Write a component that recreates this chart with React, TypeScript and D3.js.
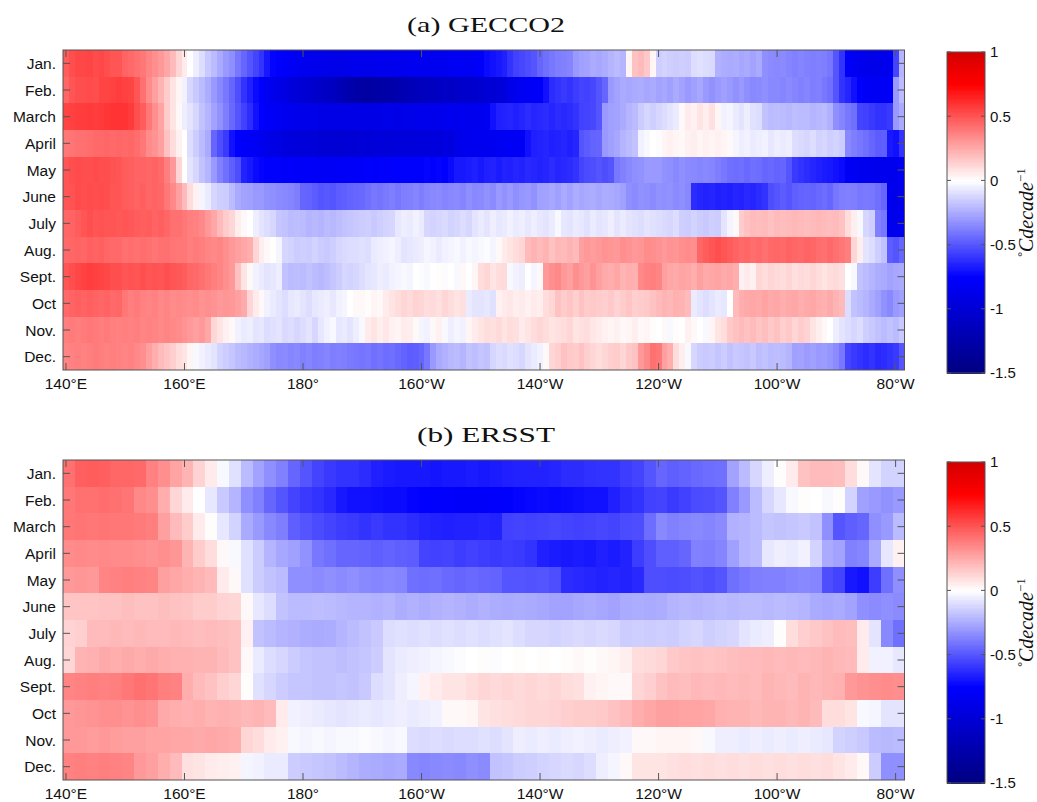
import React from 'react';
import * as d3 from 'd3';

// Month rows (top to bottom) and longitude axis annotations
const MONTHS = ['Jan.', 'Feb.', 'March', 'April', 'May', 'June', 'July', 'Aug.', 'Sept.', 'Oct', 'Nov.', 'Dec.'];
const LON_TICKS = [140, 160, 180, 200, 220, 240, 260, 280];
const LON_TICK_LABELS = ['140°E', '160°E', '180°', '160°W', '140°W', '120°W', '100°W', '80°W'];
const CBAR_TICKS = [1, 0.5, 0, -0.5, -1, -1.5];
const CBAR_TICK_LABELS = ['1', '0.5', '0', '-0.5', '-1', '-1.5'];

// Longitude extent (degrees east) and grid spacing of each product
const LON_WEST = 139.5;
const LON_EAST = 281.5;
const GECCO2_STEP = 1;
const ERSST_STEP = 2;

// GECCO2 SST trend (°C/decade), 1° columns from 139.5°E eastward
const GECCO2_JAN = [
  0.48, 0.52, 0.54, 0.54, 0.55, 0.53, 0.54, 0.52, 0.5, 0.5,
  0.46, 0.44, 0.42, 0.4, 0.36, 0.33, 0.3, 0.26, 0.2, 0.12,
  0.06, 0, -0.05, -0.1, -0.16, -0.2, -0.25, -0.3, -0.33, -0.4,
  -0.45, -0.5, -0.55, -0.6, -0.68, -0.74, -0.76, -0.78, -0.8, -0.82,
  -0.84, -0.85, -0.86, -0.86, -0.87, -0.88, -0.88, -0.88, -0.87, -0.86,
  -0.86, -0.87, -0.86, -0.85, -0.86, -0.85, -0.84, -0.85, -0.84, -0.84,
  -0.85, -0.84, -0.83, -0.84, -0.83, -0.82, -0.82, -0.81, -0.82, -0.8,
  -0.78, -0.72, -0.7, -0.68, -0.66, -0.6, -0.56, -0.54, -0.52, -0.5,
  -0.45, -0.42, -0.4, -0.38, -0.37, -0.36, -0.3, -0.28, -0.27, -0.25,
  -0.26, -0.24, -0.22, -0.2, -0.22, 0.03, 0.18, 0.2, 0.16, 0.03,
  -0.14, -0.13, -0.14, -0.15, -0.14, -0.15, -0.1, -0.09, -0.1, -0.11,
  -0.23, -0.24, -0.25, -0.24, -0.26, -0.25, -0.27, -0.25, -0.33, -0.34,
  -0.35, -0.34, -0.36, -0.37, -0.36, -0.37, -0.38, -0.37, -0.38, -0.4,
  -0.5, -0.6, -0.78, -0.82, -0.85, -0.86, -0.88, -0.87, -0.86, -0.84,
  -0.55, -0.22,
];
const GECCO2_FEB = [
  0.45, 0.5, 0.52, 0.52, 0.53, 0.52, 0.55, 0.55, 0.56, 0.57,
  0.56, 0.55, 0.5, 0.42, 0.34, 0.28, 0.22, 0.15, 0.08, 0.03,
  -0.04, -0.12, -0.16, -0.2, -0.24, -0.3, -0.35, -0.4, -0.45, -0.52,
  -0.6, -0.66, -0.72, -0.76, -0.82, -0.86, -0.9, -0.92, -0.95, -0.98,
  -1.0, -1.02, -1.05, -1.08, -1.1, -1.12, -1.15, -1.2, -1.24, -1.27,
  -1.28, -1.3, -1.28, -1.27, -1.26, -1.25, -1.22, -1.2, -1.18, -1.15,
  -1.14, -1.12, -1.13, -1.1, -1.08, -1.1, -1.07, -1.05, -1.06, -1.04,
  -1.02, -1.0, -1.0, -0.98, -0.95, -0.88, -0.85, -0.82, -0.8, -0.8,
  -0.78, -0.7, -0.62, -0.6, -0.58, -0.6, -0.57, -0.55, -0.56, -0.54,
  -0.5, -0.45, -0.3, -0.27, -0.25, -0.26, -0.25, -0.24, -0.26, -0.25,
  -0.27, -0.26, -0.28, -0.25, -0.27, -0.3, -0.28, -0.26, -0.3, -0.32,
  -0.3, -0.28, -0.3, -0.32, -0.3, -0.33, -0.35, -0.34, -0.33, -0.35,
  -0.35, -0.36, -0.34, -0.36, -0.37, -0.36, -0.38, -0.37, -0.4, -0.42,
  -0.5, -0.6, -0.64, -0.7, -0.76, -0.8, -0.8, -0.82, -0.8, -0.78,
  -0.3, -0.2,
];
const GECCO2_MAR = [
  0.55, 0.56, 0.57, 0.57, 0.58, 0.57, 0.58, 0.59, 0.6, 0.6,
  0.6, 0.58, 0.52, 0.48, 0.4, 0.33, 0.27, 0.15, 0.08, 0.02,
  -0.05, -0.08, -0.12, -0.18, -0.22, -0.27, -0.32, -0.38, -0.44, -0.5,
  -0.56, -0.62, -0.7, -0.75, -0.78, -0.8, -0.82, -0.84, -0.85, -0.86,
  -0.87, -0.88, -0.88, -0.89, -0.9, -0.9, -0.9, -0.89, -0.9, -0.9,
  -0.9, -0.9, -0.89, -0.9, -0.88, -0.88, -0.89, -0.87, -0.88, -0.87,
  -0.86, -0.87, -0.86, -0.86, -0.85, -0.84, -0.86, -0.84, -0.85, -0.84,
  -0.84, -0.82, -0.7, -0.66, -0.65, -0.64, -0.66, -0.64, -0.62, -0.64,
  -0.63, -0.62, -0.64, -0.62, -0.63, -0.62, -0.6, -0.56, -0.55, -0.54,
  -0.5, -0.3, -0.28, -0.27, -0.25, -0.22, -0.2, -0.15, -0.12, -0.14,
  -0.12, -0.1, -0.08, -0.06, 0.02, 0.06, 0.04, 0.08, 0.05, 0.09,
  0.03, -0.04, -0.03, -0.06, -0.08, -0.05, -0.09, -0.1, -0.18, -0.2,
  -0.19, -0.2, -0.21, -0.19, -0.2, -0.2, -0.22, -0.21, -0.2, -0.23,
  -0.33, -0.36, -0.4, -0.42, -0.55, -0.56, -0.58, -0.6, -0.6, -0.58,
  -0.3, -0.25,
];
const GECCO2_APR = [
  0.4, 0.41, 0.42, 0.42, 0.43, 0.44, 0.44, 0.45, 0.44, 0.45,
  0.44, 0.45, 0.43, 0.4, 0.34, 0.32, 0.28, 0.18, 0.1, 0.04,
  0, -0.1, -0.15, -0.2, -0.25, -0.45, -0.52, -0.58, -0.7, -0.75,
  -0.78, -0.8, -0.82, -0.84, -0.88, -0.9, -0.92, -0.94, -0.95, -0.96,
  -0.97, -0.98, -0.98, -1.0, -0.99, -1.0, -1.0, -1.0, -0.99, -1.0,
  -0.98, -0.99, -0.98, -0.97, -0.98, -0.97, -0.96, -0.97, -0.96, -0.95,
  -0.96, -0.95, -0.94, -0.95, -0.93, -0.94, -0.88, -0.86, -0.85, -0.84,
  -0.85, -0.83, -0.84, -0.82, -0.82, -0.8, -0.81, -0.8, -0.7, -0.66,
  -0.65, -0.64, -0.66, -0.65, -0.64, -0.66, -0.64, -0.5, -0.48, -0.46,
  -0.45, -0.3, -0.28, -0.26, -0.22, -0.2, -0.18, -0.04, -0.02, 0,
  -0.01, 0.03, 0.04, 0.03, 0.02, 0.04, 0.05, 0.03, 0.04, 0.03,
  0.04, 0.03, 0.02, -0.03, -0.05, -0.04, -0.06, -0.05, -0.04, -0.07,
  -0.05, -0.06, -0.05, -0.1, -0.11, -0.12, -0.1, -0.13, -0.12, -0.14,
  -0.13, -0.15, -0.35, -0.38, -0.4, -0.42, -0.45, -0.48, -0.47, -0.68,
  -0.7, -0.6,
];
const GECCO2_MAY = [
  0.5, 0.52, 0.53, 0.52, 0.52, 0.53, 0.52, 0.52, 0.51, 0.5,
  0.48, 0.47, 0.46, 0.46, 0.45, 0.46, 0.44, 0.38, 0.3, 0.12,
  0, -0.08, -0.12, -0.18, -0.22, -0.3, -0.37, -0.42, -0.47, -0.52,
  -0.65, -0.68, -0.72, -0.74, -0.75, -0.76, -0.76, -0.78, -0.77, -0.78,
  -0.79, -0.78, -0.79, -0.8, -0.79, -0.8, -0.79, -0.8, -0.79, -0.78,
  -0.78, -0.77, -0.78, -0.76, -0.77, -0.76, -0.75, -0.76, -0.75, -0.76,
  -0.75, -0.74, -0.75, -0.74, -0.75, -0.72, -0.68, -0.68, -0.67, -0.66,
  -0.68, -0.66, -0.65, -0.67, -0.65, -0.66, -0.64, -0.65, -0.63, -0.64,
  -0.65, -0.64, -0.62, -0.64, -0.63, -0.62, -0.6, -0.55, -0.53, -0.52,
  -0.5, -0.52, -0.5, -0.4, -0.37, -0.35, -0.33, -0.32, -0.3, -0.3,
  -0.3, -0.32, -0.33, -0.35, -0.33, -0.34, -0.35, -0.36, -0.35, -0.36,
  -0.38, -0.4, -0.42, -0.43, -0.42, -0.44, -0.42, -0.43, -0.45, -0.44,
  -0.46, -0.45, -0.5, -0.58, -0.6, -0.62, -0.64, -0.66, -0.67, -0.68,
  -0.7, -0.72, -0.8, -0.82, -0.84, -0.85, -0.85, -0.86, -0.85, -0.86,
  -0.85, -0.84,
];
const GECCO2_JUN = [
  0.5, 0.51, 0.53, 0.52, 0.53, 0.52, 0.53, 0.52, 0.5, 0.5,
  0.48, 0.47, 0.46, 0.47, 0.45, 0.46, 0.45, 0.4, 0.35, 0.28,
  0.2, 0.1, 0.04, -0.03, -0.06, -0.12, -0.14, -0.15, -0.2, -0.25,
  -0.27, -0.28, -0.3, -0.3, -0.32, -0.33, -0.34, -0.35, -0.36, -0.38,
  -0.45, -0.46, -0.48, -0.5, -0.49, -0.5, -0.48, -0.47, -0.46, -0.45,
  -0.44, -0.42, -0.4, -0.41, -0.39, -0.38, -0.4, -0.38, -0.37, -0.36,
  -0.38, -0.36, -0.35, -0.34, -0.36, -0.35, -0.34, -0.36, -0.33, -0.35,
  -0.34, -0.32, -0.34, -0.3, -0.32, -0.3, -0.33, -0.31, -0.3, -0.32,
  -0.28, -0.27, -0.26, -0.28, -0.25, -0.27, -0.24, -0.26, -0.25, -0.24,
  -0.26, -0.24, -0.25, -0.26, -0.28, -0.33, -0.34, -0.32, -0.33, -0.34,
  -0.32, -0.33, -0.32, -0.34, -0.33, -0.35, -0.62, -0.64, -0.65, -0.64,
  -0.66, -0.65, -0.66, -0.64, -0.65, -0.63, -0.64, -0.62, -0.6, -0.52,
  -0.5, -0.48, -0.5, -0.47, -0.46, -0.45, -0.46, -0.44, -0.43, -0.45,
  -0.4, -0.38, -0.37, -0.38, -0.4, -0.39, -0.4, -0.42, -0.45, -0.85,
  -0.88, -0.86,
];
const GECCO2_JUL = [
  0.45, 0.46, 0.48, 0.5, 0.52, 0.5, 0.51, 0.5, 0.5, 0.49,
  0.5, 0.49, 0.48, 0.47, 0.48, 0.46, 0.47, 0.45, 0.42, 0.42,
  0.4, 0.38, 0.37, 0.35, 0.3, 0.26, 0.2, 0.15, 0.12, 0.05,
  0.02, 0, -0.05, -0.08, -0.1, -0.12, -0.17, -0.18, -0.2, -0.19,
  -0.2, -0.22, -0.21, -0.22, -0.2, -0.21, -0.19, -0.18, -0.17, -0.16,
  -0.15, -0.14, -0.16, -0.14, -0.13, -0.12, -0.07, -0.05, -0.06, -0.04,
  -0.06, -0.12, -0.13, -0.12, -0.11, -0.13, -0.12, -0.1, -0.12, -0.08,
  -0.06, -0.08, -0.05, -0.07, -0.06, -0.04, -0.06, -0.05, -0.07, -0.05,
  -0.07, -0.08, -0.06, -0.02, -0.07, -0.08, -0.06, -0.07, -0.09, -0.06,
  -0.08, -0.07, -0.05, -0.08, -0.06, -0.08, -0.09, -0.1, -0.08, -0.09,
  -0.1, -0.11, -0.12, -0.1, -0.14, -0.15, -0.13, -0.15, -0.16, -0.14,
  -0.15, -0.08, -0.03, 0.02, 0.15, 0.18, 0.2, 0.19, 0.2, 0.18,
  0.2, 0.19, 0.2, 0.21, 0.2, 0.19, 0.2, 0.21, 0.2, 0.19,
  0.2, 0.18, 0.1, 0.05, -0.02, -0.12, -0.14, -0.37, -0.4, -0.85,
  -0.86, -0.84,
];
const GECCO2_AUG = [
  0.44, 0.45, 0.46, 0.45, 0.47, 0.46, 0.47, 0.45, 0.44, 0.44,
  0.42, 0.43, 0.42, 0.43, 0.42, 0.41, 0.42, 0.42, 0.41, 0.4,
  0.4, 0.38, 0.39, 0.38, 0.36, 0.35, 0.36, 0.33, 0.3, 0.28,
  0.26, 0.24, 0.12, 0.05, 0.02, 0, -0.03, -0.12, -0.13, -0.15,
  -0.14, -0.15, -0.13, -0.15, -0.16, -0.14, -0.12, -0.11, -0.1, -0.1,
  -0.09, -0.1, -0.06, -0.05, -0.04, -0.03, -0.05, -0.08, -0.07, -0.06,
  -0.05, -0.03, -0.04, -0.06, -0.04, -0.03, -0.02, -0.04, -0.02, -0.03,
  -0.02, -0.01, -0.03, 0.02, 0.06, 0.08, 0.1, 0.12, 0.2, 0.22,
  0.2, 0.22, 0.18, 0.21, 0.2, 0.22, 0.2, 0.28, 0.3, 0.29,
  0.3, 0.32, 0.31, 0.3, 0.33, 0.32, 0.3, 0.31, 0.34, 0.33,
  0.32, 0.3, 0.32, 0.31, 0.33, 0.34, 0.33, 0.45, 0.48, 0.5,
  0.52, 0.5, 0.48, 0.46, 0.44, 0.45, 0.43, 0.44, 0.42, 0.44,
  0.45, 0.44, 0.46, 0.45, 0.44, 0.46, 0.45, 0.43, 0.42, 0.44,
  0.42, 0.4, 0.38, 0.12, 0.05, -0.08, -0.1, -0.14, -0.18, -0.48,
  -0.5, -0.45,
];
const GECCO2_SEP = [
  0.5, 0.52, 0.54, 0.56, 0.57, 0.56, 0.55, 0.54, 0.52, 0.52,
  0.5, 0.51, 0.5, 0.52, 0.5, 0.51, 0.5, 0.52, 0.5, 0.49,
  0.48, 0.45, 0.44, 0.42, 0.4, 0.38, 0.36, 0.33, 0.3, 0.18,
  0.08, 0.02, -0.04, -0.06, -0.08, -0.07, -0.05, -0.18, -0.2, -0.19,
  -0.2, -0.18, -0.2, -0.21, -0.19, -0.17, -0.15, -0.12, -0.13, -0.12,
  -0.1, -0.08, -0.07, -0.05, -0.06, -0.04, -0.03, -0.02, -0.03, 0,
  -0.01, -0.02, 0, 0.01, -0.01, 0, -0.02, 0.02, 0, 0.03,
  0.1, 0.12, 0.08, 0.1, 0.11, -0.02, -0.04, -0.05, 0, -0.03,
  0.02, 0.3, 0.33, 0.35, 0.3, 0.28, 0.33, 0.3, 0.28, 0.32,
  0.28, 0.25, 0.24, 0.26, 0.22, 0.24, 0.23, 0.35, 0.37, 0.38,
  0.36, 0.28, 0.26, 0.25, 0.27, 0.26, 0.24, 0.28, 0.25, 0.26,
  0.27, 0.25, 0.26, 0.24, 0.04, 0.06, 0.04, 0.12, 0.1, 0.12,
  0.11, 0.1, 0.12, 0.09, 0.11, 0.1, 0.12, 0.1, 0.08, 0.1,
  0.11, 0.09, 0, -0.02, -0.18, -0.2, -0.22, -0.24, -0.25, -0.27,
  -0.26, -0.25,
];
const GECCO2_OCT = [
  0.44, 0.46, 0.47, 0.46, 0.47, 0.46, 0.45, 0.46, 0.44, 0.45,
  0.4, 0.38, 0.39, 0.37, 0.36, 0.37, 0.35, 0.36, 0.34, 0.35,
  0.34, 0.33, 0.34, 0.32, 0.33, 0.32, 0.3, 0.31, 0.3, 0.28,
  0.25, 0.12, 0.06, 0.02, -0.04, -0.06, -0.08, -0.1, -0.07, -0.06,
  -0.08, -0.1, -0.07, -0.06, -0.05, -0.07, -0.04, -0.03, 0, 0.02,
  0.02, 0.01, 0.03, 0.02, 0.06, 0.08, 0.1, 0.12, 0.11, 0.13,
  0.12, 0.1, 0.11, 0.09, 0.12, 0.1, 0.08, 0.09, -0.06, -0.08,
  -0.08, -0.07, -0.09, 0.04, 0.06, 0.07, 0.05, 0.06, 0.04, 0.06,
  0.05, 0.1, 0.12, 0.18, 0.15, 0.17, 0.14, 0.18, 0.15, 0.16,
  0.15, 0.14, 0.16, 0.13, 0.15, 0.17, 0.14, 0.15, 0.16, 0.18,
  0.2, 0.22, 0.21, 0.23, 0.22, 0.2, -0.06, -0.08, -0.1, -0.08,
  -0.06, -0.07, 0, 0.2, 0.24, 0.25, 0.26, 0.25, 0.27, 0.25,
  0.26, 0.24, 0.25, 0.26, 0.24, 0.25, 0.26, 0.24, 0.23, 0.25,
  0.22, 0.2, -0.1, -0.18, -0.2, -0.22, -0.25, -0.28, -0.32, -0.35,
  -0.3, -0.28,
];
const GECCO2_NOV = [
  0.38, 0.39, 0.38, 0.39, 0.4, 0.39, 0.38, 0.39, 0.38, 0.37,
  0.38, 0.37, 0.38, 0.36, 0.37, 0.36, 0.35, 0.36, 0.35, 0.34,
  0.32, 0.3, 0.28, 0.3, 0.26, 0.12, 0.08, 0.04, 0.02, -0.04,
  -0.06, -0.05, -0.08, -0.07, -0.1, -0.09, -0.08, -0.11, -0.1, -0.12,
  -0.1, -0.08, -0.12, -0.07, -0.04, -0.02, -0.07, -0.06, -0.08, -0.05,
  -0.02, 0.06, 0.08, 0.05, 0.07, 0.04, 0.03, 0.06, 0.05, 0.02,
  -0.03, -0.04, 0.02, 0.04, -0.02, -0.05, -0.03, -0.04, 0.03, 0.06,
  0.08, 0.1, 0.09, 0.11, 0.08, 0.1, 0.09, 0.06, 0.08, 0.1,
  0.12, 0.1, 0.08, 0.09, 0.1, 0.12, 0.08, 0.09, 0.1, 0.07,
  0.06, 0.04, 0.03, 0.04, 0.02, 0.03, 0.05, 0.02, 0.03, 0.01,
  0, 0.02, -0.02, 0.01, 0, 0.04, 0.02, 0, -0.02, 0.03,
  0.08, 0.1, 0.16, 0.18, 0.2, 0.18, 0.2, 0.17, 0.19, 0.16,
  0.18, 0.14, 0.16, 0.12, 0.15, 0.13, 0.08, 0.05, 0.02, 0,
  -0.05, -0.08, -0.1, -0.12, -0.1, -0.14, -0.16, -0.18, -0.2, -0.18,
  -0.2, -0.16,
];
const GECCO2_DEC = [
  0.36, 0.37, 0.38, 0.37, 0.38, 0.39, 0.38, 0.37, 0.38, 0.37,
  0.36, 0.37, 0.35, 0.33, 0.28, 0.24, 0.2, 0.17, 0.14, 0.1,
  0.08, 0.03, -0.02, -0.04, -0.06, -0.08, -0.13, -0.15, -0.17, -0.2,
  -0.21, -0.23, -0.24, -0.26, -0.28, -0.33, -0.35, -0.34, -0.36, -0.35,
  -0.37, -0.36, -0.38, -0.37, -0.36, -0.38, -0.37, -0.38, -0.39, -0.4,
  -0.41, -0.4, -0.42, -0.41, -0.43, -0.42, -0.44, -0.46, -0.48, -0.47,
  -0.45, -0.4, -0.3, -0.25, -0.23, -0.21, -0.2, -0.22, -0.18, -0.19,
  -0.17, -0.18, -0.12, -0.1, -0.11, -0.09, -0.1, -0.12, -0.08, -0.06,
  -0.04, 0.02, 0.12, 0.14, 0.18, 0.16, 0.15, 0.18, 0.14, 0.12,
  0.1, 0.12, 0.14, 0.15, 0.12, 0.16, 0.18, 0.3, 0.35, 0.42,
  0.4, 0.28, 0.24, 0.1, 0.05, -0.02, -0.12, -0.15, -0.16, -0.15,
  -0.17, -0.15, -0.18, -0.16, -0.17, -0.18, -0.16, -0.19, -0.18, -0.2,
  -0.19, -0.2, -0.22, -0.28, -0.27, -0.29, -0.28, -0.3, -0.29, -0.31,
  -0.34, -0.4, -0.55, -0.58, -0.6, -0.62, -0.6, -0.63, -0.62, -0.6,
  -0.58, -0.5,
];

// ERSST SST trend (°C/decade), 2° columns from 139.5°E eastward
const ERSST_JAN = [
  0.42, 0.47, 0.48, 0.47, 0.45, 0.45, 0.44, 0.37, 0.33, 0.27,
  0.22, 0.13, 0.06, -0.02, -0.09, -0.2, -0.27, -0.33, -0.37, -0.45,
  -0.5, -0.55, -0.58, -0.6, -0.6, -0.62, -0.66, -0.67, -0.68, -0.68,
  -0.68, -0.69, -0.68, -0.68, -0.67, -0.68, -0.67, -0.66, -0.65, -0.65,
  -0.65, -0.64, -0.62, -0.62, -0.61, -0.6, -0.6, -0.57, -0.55, -0.5,
  -0.45, -0.47, -0.46, -0.44, -0.43, -0.42, -0.27, -0.2, -0.12, -0.05,
  0.01, 0.06, 0.18, 0.2, 0.2, 0.19, 0.1, 0.02, -0.08, -0.13,
  -0.13,
];
const ERSST_FEB = [
  0.4, 0.42, 0.42, 0.43, 0.42, 0.41, 0.35, 0.33, 0.24, 0.12,
  0.06, 0, -0.07, -0.16, -0.22, -0.33, -0.37, -0.45, -0.5, -0.55,
  -0.58, -0.6, -0.63, -0.68, -0.7, -0.7, -0.71, -0.72, -0.72, -0.74,
  -0.75, -0.76, -0.77, -0.78, -0.78, -0.78, -0.77, -0.76, -0.74, -0.73,
  -0.72, -0.73, -0.72, -0.71, -0.7, -0.7, -0.66, -0.62, -0.6, -0.56,
  -0.55, -0.58, -0.56, -0.53, -0.52, -0.5, -0.37, -0.3, -0.2, -0.12,
  -0.07, -0.02, 0.01, 0, -0.02, 0.01, -0.13, -0.28, -0.3, -0.32,
  -0.3,
];
const ERSST_MAR = [
  0.4, 0.41, 0.4, 0.41, 0.4, 0.4, 0.39, 0.38, 0.28, 0.2,
  0.15, 0.06, 0.01, -0.07, -0.13, -0.25, -0.3, -0.35, -0.38, -0.47,
  -0.5, -0.53, -0.55, -0.57, -0.58, -0.6, -0.58, -0.6, -0.6, -0.62,
  -0.64, -0.65, -0.66, -0.65, -0.65, -0.64, -0.65, -0.56, -0.55, -0.56,
  -0.55, -0.54, -0.55, -0.56, -0.55, -0.54, -0.55, -0.53, -0.52, -0.43,
  -0.35, -0.37, -0.36, -0.35, -0.36, -0.34, -0.23, -0.22, -0.2, -0.17,
  -0.18, -0.17, -0.16, -0.18, -0.33, -0.5, -0.47, -0.45, -0.33, -0.3,
  -0.2,
];
const ERSST_APR = [
  0.34, 0.35, 0.34, 0.35, 0.34, 0.34, 0.33, 0.32, 0.33, 0.31,
  0.22, 0.15, 0.1, 0.02, -0.02, -0.09, -0.15, -0.22, -0.26, -0.28,
  -0.32, -0.4, -0.42, -0.45, -0.45, -0.46, -0.47, -0.46, -0.47, -0.48,
  -0.55, -0.56, -0.55, -0.57, -0.56, -0.57, -0.58, -0.57, -0.58, -0.6,
  -0.66, -0.67, -0.68, -0.67, -0.68, -0.66, -0.67, -0.65, -0.57, -0.52,
  -0.47, -0.47, -0.45, -0.37, -0.38, -0.36, -0.28, -0.22, -0.2, -0.07,
  -0.05, -0.06, -0.04, -0.13, -0.25, -0.27, -0.37, -0.36, -0.25, -0.07,
  0.04,
];
const ERSST_MAY = [
  0.3, 0.31, 0.3, 0.36, 0.37, 0.38, 0.37, 0.36, 0.28, 0.26,
  0.24, 0.22, 0.2, 0.06, 0.02, -0.09, -0.15, -0.18, -0.2, -0.33,
  -0.33, -0.34, -0.33, -0.34, -0.33, -0.35, -0.36, -0.35, -0.36, -0.42,
  -0.43, -0.42, -0.44, -0.45, -0.44, -0.45, -0.46, -0.5, -0.5, -0.51,
  -0.5, -0.52, -0.62, -0.63, -0.64, -0.65, -0.64, -0.65, -0.63, -0.52,
  -0.52, -0.53, -0.52, -0.51, -0.52, -0.5, -0.42, -0.4, -0.38, -0.37,
  -0.37, -0.36, -0.35, -0.36, -0.52, -0.55, -0.68, -0.7, -0.57, -0.42,
  -0.33,
];
const ERSST_JUN = [
  0.17, 0.17, 0.17, 0.18, 0.18, 0.19, 0.18, 0.18, 0.19, 0.18,
  0.17, 0.15, 0.15, 0.13, 0.12, 0.02, -0.07, -0.1, -0.18, -0.2,
  -0.2, -0.19, -0.2, -0.21, -0.22, -0.22, -0.23, -0.22, -0.24, -0.23,
  -0.24, -0.23, -0.22, -0.23, -0.24, -0.23, -0.24, -0.25, -0.24, -0.25,
  -0.26, -0.27, -0.27, -0.26, -0.25, -0.26, -0.27, -0.25, -0.24, -0.25,
  -0.24, -0.22, -0.21, -0.22, -0.21, -0.2, -0.21, -0.2, -0.2, -0.21,
  -0.2, -0.21, -0.22, -0.25, -0.26, -0.25, -0.27, -0.33, -0.34, -0.33,
  -0.34,
];
const ERSST_JUL = [
  0.13, 0.14, 0.2, 0.2, 0.21, 0.2, 0.21, 0.2, 0.2, 0.21,
  0.2, 0.19, 0.2, 0.19, 0.18, 0.04, -0.18, -0.2, -0.22, -0.23,
  -0.24, -0.25, -0.24, -0.22, -0.2, -0.18, -0.16, -0.1, -0.09, -0.1,
  -0.09, -0.1, -0.09, -0.1, -0.09, -0.1, -0.09, -0.08, -0.1, -0.12,
  -0.12, -0.13, -0.12, -0.11, -0.12, -0.11, -0.12, -0.15, -0.14, -0.15,
  -0.14, -0.15, -0.13, -0.12, -0.14, -0.13, -0.12, -0.08, -0.06, -0.05,
  0.01, 0.1, 0.14, 0.16, 0.18, 0.2, 0.19, 0.06, -0.08, -0.35,
  -0.42,
];
const ERSST_AUG = [
  0.12, 0.22, 0.23, 0.25, 0.24, 0.25, 0.24, 0.25, 0.24, 0.23,
  0.23, 0.22, 0.22, 0.2, 0.18, 0.02, -0.06, -0.1, -0.12, -0.15,
  -0.17, -0.18, -0.18, -0.19, -0.18, -0.17, -0.15, -0.08, -0.06, -0.05,
  -0.04, -0.03, -0.02, -0.01, 0, 0.01, -0.01, 0, 0.01, 0,
  0.01, 0, 0.01, 0.02, 0.01, 0.02, 0.03, 0.05, 0.1, 0.11,
  0.12, 0.16, 0.17, 0.18, 0.17, 0.18, 0.19, 0.2, 0.2, 0.21,
  0.2, 0.21, 0.2, 0.21, 0.22, 0.21, 0.2, 0.06, -0.04, -0.04,
  -0.07,
];
const ERSST_SEP = [
  0.36, 0.37, 0.38, 0.37, 0.38, 0.4, 0.42, 0.41, 0.38, 0.37,
  0.24, 0.2, 0.18, 0.14, 0.12, 0.01, -0.09, -0.12, -0.15, -0.17,
  -0.17, -0.18, -0.18, -0.17, -0.18, -0.16, -0.1, -0.08, -0.05, -0.03,
  0.04, 0.06, 0.08, 0.08, 0.1, 0.12, 0.11, 0.12, 0.11, 0.12,
  0.11, 0.12, 0.1, 0.09, 0.04, 0.03, 0.02, 0.02, 0.12, 0.14,
  0.18, 0.2, 0.19, 0.21, 0.2, 0.21, 0.2, 0.21, 0.2, 0.22,
  0.21, 0.2, 0.22, 0.21, 0.22, 0.23, 0.3, 0.32, 0.33, 0.34,
  0.33,
];
const ERSST_OCT = [
  0.3, 0.31, 0.32, 0.33, 0.33, 0.32, 0.33, 0.32, 0.25, 0.24,
  0.23, 0.24, 0.22, 0.23, 0.22, 0.21, 0.22, 0.2, 0.06, -0.04,
  -0.05, -0.06, -0.07, -0.08, -0.07, -0.06, -0.07, -0.06, -0.05, -0.06,
  -0.05, -0.04, 0.02, 0.02, 0.03, 0.08, 0.09, 0.1, 0.11, 0.12,
  0.12, 0.13, 0.14, 0.15, 0.15, 0.16, 0.18, 0.2, 0.24, 0.26,
  0.28, 0.28, 0.27, 0.27, 0.26, 0.23, 0.22, 0.22, 0.21, 0.22,
  0.22, 0.21, 0.22, 0.2, 0.1, 0.1, 0.08, -0.02, -0.03, -0.08,
  -0.08,
];
const ERSST_NOV = [
  0.3, 0.3, 0.29, 0.3, 0.29, 0.28, 0.28, 0.27, 0.27, 0.26,
  0.26, 0.25, 0.26, 0.25, 0.24, 0.12, 0.1, 0.06, 0.04, -0.02,
  -0.03, -0.02, -0.03, -0.02, -0.02, -0.01, -0.02, -0.03, -0.02, -0.1,
  -0.11, -0.1, -0.11, -0.1, -0.1, -0.09, -0.1, -0.08, -0.05, -0.06,
  -0.05, -0.06, -0.05, -0.04, -0.05, -0.06, -0.05, -0.04, 0.02, 0.02,
  0.03, 0.03, 0.03, 0.02, -0.02, -0.05, -0.05, -0.06, -0.05, -0.06,
  -0.05, -0.06, -0.05, -0.06, -0.07, -0.13, -0.14, -0.16, -0.2, -0.21,
  -0.2,
];
const ERSST_DEC = [
  0.37, 0.38, 0.37, 0.38, 0.37, 0.36, 0.3, 0.28, 0.24, 0.2,
  0.09, 0.08, 0.06, 0.05, 0.04, -0.03, -0.04, -0.06, -0.06, -0.15,
  -0.16, -0.17, -0.18, -0.2, -0.22, -0.24, -0.25, -0.26, -0.25, -0.35,
  -0.36, -0.35, -0.34, -0.35, -0.33, -0.34, -0.18, -0.17, -0.15, -0.14,
  -0.13, -0.12, -0.11, -0.12, -0.1, -0.05, -0.03, 0.02, 0.08, 0.08,
  0.08, 0.09, 0.1, 0.09, 0.1, 0.09, 0.1, 0.09, 0.1, 0.09,
  0.1, 0.09, 0.1, 0.09, 0.1, 0.08, 0.06, 0.02, -0.15, -0.33,
  -0.33,
];

const GECCO2 = [
  GECCO2_JAN, GECCO2_FEB, GECCO2_MAR, GECCO2_APR, GECCO2_MAY, GECCO2_JUN,
  GECCO2_JUL, GECCO2_AUG, GECCO2_SEP, GECCO2_OCT, GECCO2_NOV, GECCO2_DEC,
];
const ERSST = [
  ERSST_JAN, ERSST_FEB, ERSST_MAR, ERSST_APR, ERSST_MAY, ERSST_JUN,
  ERSST_JUL, ERSST_AUG, ERSST_SEP, ERSST_OCT, ERSST_NOV, ERSST_DEC,
];

const C_MIN = -1.5;
const C_MAX = 1;

// Diverging blue-white-red map (symmetric about zero, clipped to the colour limits)
const colour = d3
  .scaleLinear<string>()
  .domain([-1.5, -0.75, 0, 0.75, 1.5])
  .range(['#000080', '#0000ff', '#ffffff', '#ff0000', '#800000'])
  .clamp(true);

const SANS = "'Liberation Sans', Arial, Helvetica, sans-serif";
const SERIF = "'Liberation Serif', 'Times New Roman', serif";

const PLOT_LEFT = 63;
const PLOT_RIGHT = 904.5;
const PLOT_HEIGHT = 320;
const CBAR_LEFT = 947;
const CBAR_RIGHT = 985;
const AXIS_COLOR = '#555';

type PanelProps = {
  title: string;
  titleWidth: number;
  rows: number[][];
  step: number;
  top: number;
};

function Panel({ title, titleWidth, rows, step, top }: PanelProps) {
  const x = d3.scaleLinear().domain([LON_WEST, LON_EAST]).range([PLOT_LEFT, PLOT_RIGHT]);
  const y = d3.scaleBand<string>().domain(MONTHS).range([top, top + PLOT_HEIGHT]);
  const bottom = top + PLOT_HEIGHT;
  const tickLen = 7;

  const cbTop = top + 2;
  const cbBottom = top + 323;
  const cy = d3.scaleLinear().domain([C_MIN, C_MAX]).range([cbBottom, cbTop]);
  const levels = d3.range(C_MIN, C_MAX, 0.01);

  return (
    <g>
      <text
        x={486}
        y={top - 18}
        textAnchor="middle"
        fontFamily={SERIF}
        fontSize={22}
        textLength={titleWidth}
        lengthAdjust="spacingAndGlyphs"
        fill="#111"
      >
        {title}
      </text>

      {/* heat-map cells */}
      <g shapeRendering="crispEdges">
        {rows.map((row, mi) =>
          row.map((v, ci) => {
            const lon0 = LON_WEST + ci * step;
            const x0 = x(lon0);
            const x1 = x(Math.min(lon0 + step, LON_EAST));
            return (
              <rect
                key={`${mi}-${ci}`}
                x={x0}
                y={y(MONTHS[mi])}
                width={x1 - x0 + 0.3}
                height={y.bandwidth() + 0.3}
                fill={colour(Math.max(C_MIN, Math.min(C_MAX, v)))}
              />
            );
          })
        )}
      </g>

      {/* frame */}
      <rect
        x={PLOT_LEFT}
        y={top}
        width={PLOT_RIGHT - PLOT_LEFT}
        height={PLOT_HEIGHT}
        fill="none"
        stroke={AXIS_COLOR}
        strokeWidth={1}
      />

      {/* longitude ticks, top and bottom, pointing inward */}
      {LON_TICKS.map((lon, i) => (
        <g key={lon}>
          <line x1={x(lon)} x2={x(lon)} y1={bottom} y2={bottom - tickLen} stroke={AXIS_COLOR} />
          <line x1={x(lon)} x2={x(lon)} y1={top} y2={top + tickLen} stroke={AXIS_COLOR} />
          <text
            x={x(lon)}
            y={bottom + 19}
            textAnchor="middle"
            fontFamily={SANS}
            fontSize={15.5}
            fill="#111"
          >
            {LON_TICK_LABELS[i]}
          </text>
        </g>
      ))}

      {/* month ticks, left and right */}
      {MONTHS.map((m) => {
        const yc = (y(m) as number) + y.bandwidth() / 2;
        return (
          <g key={m}>
            <line x1={PLOT_LEFT} x2={PLOT_LEFT + tickLen} y1={yc} y2={yc} stroke={AXIS_COLOR} />
            <line x1={PLOT_RIGHT} x2={PLOT_RIGHT - tickLen} y1={yc} y2={yc} stroke={AXIS_COLOR} />
            <text
              x={56}
              y={yc}
              dy="0.36em"
              textAnchor="end"
              fontFamily={SANS}
              fontSize={15.5}
              fill="#111"
            >
              {m}
            </text>
          </g>
        );
      })}

      {/* colour bar */}
      <g shapeRendering="crispEdges">
        {levels.map((v) => (
          <rect
            key={v.toFixed(2)}
            x={CBAR_LEFT}
            y={cy(Math.min(v + 0.01, C_MAX))}
            width={CBAR_RIGHT - CBAR_LEFT}
            height={cy(v) - cy(Math.min(v + 0.01, C_MAX)) + 0.6}
            fill={colour(v + 0.005)}
          />
        ))}
      </g>
      <rect
        x={CBAR_LEFT}
        y={cbTop}
        width={CBAR_RIGHT - CBAR_LEFT}
        height={cbBottom - cbTop}
        fill="none"
        stroke={AXIS_COLOR}
      />
      {CBAR_TICKS.map((t, i) => (
        <g key={t}>
          <line x1={CBAR_RIGHT} x2={CBAR_RIGHT - 4} y1={cy(t)} y2={cy(t)} stroke={AXIS_COLOR} />
          <line x1={CBAR_LEFT} x2={CBAR_LEFT + 4} y1={cy(t)} y2={cy(t)} stroke={AXIS_COLOR} />
          <text
            x={CBAR_RIGHT + 5}
            y={cy(t)}
            dy="0.36em"
            fontFamily={SANS}
            fontSize={15}
            fill="#111"
          >
            {CBAR_TICK_LABELS[i]}
          </text>
        </g>
      ))}
      <text
        transform={`translate(1033,${(cbTop + cbBottom) / 2}) rotate(-90)`}
        textAnchor="middle"
        fontFamily={SERIF}
        fontStyle="italic"
        fontSize={20}
        fill="#111"
      >
        <tspan fontSize={12} fontStyle="normal" dy={-7}>
          °
        </tspan>
        <tspan dy={7}>Cdecade</tspan>
        <tspan fontSize={13} fontStyle="normal" dy={-8}>
          −1
        </tspan>
      </text>
    </g>
  );
}

export default function App() {
  return (
    <svg
      width={1037}
      height={802}
      viewBox="0 0 1037 802"
      style={{ position: 'absolute', left: 0, top: 0, background: '#fff' }}
    >
      <rect x={0} y={0} width={1037} height={802} fill="#fff" />
      <Panel title="(a) GECCO2" titleWidth={158} rows={GECCO2} step={GECCO2_STEP} top={50} />
      <Panel title="(b) ERSST" titleWidth={138} rows={ERSST} step={ERSST_STEP} top={460} />
    </svg>
  );
}
